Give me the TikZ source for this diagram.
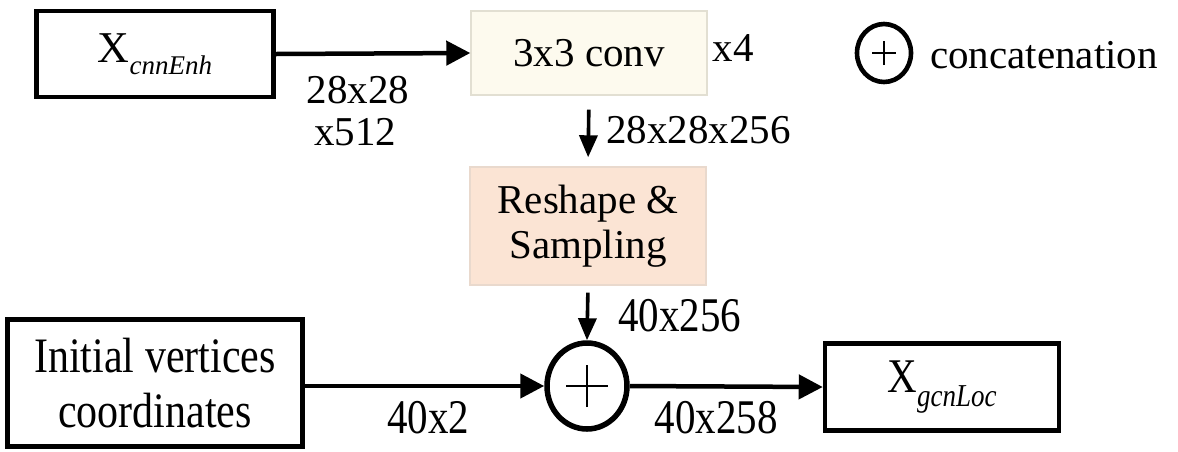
\documentclass[tikz,border=0pt]{standalone}
\usepackage{fontspec}
\setmainfont{Liberation Serif}
\usetikzlibrary{arrows.meta,shapes.geometric}
\definecolor{convfill}{HTML}{FDFAEE}
\definecolor{convline}{HTML}{E2DFD2}
\definecolor{resfill}{HTML}{FBE4D4}
\definecolor{resline}{HTML}{E9D9CD}
\newcommand{\subit}[1]{\raisebox{-0.28em}{\fontsize{27}{27}\selectfont\itshape #1}}
\newcommand{\tall}[1]{\scalebox{1}[1.18]{#1}}
\begin{document}
\begin{tikzpicture}[x=1pt,y=-1pt,
  every node/.style={font=\fontsize{41}{46}\selectfont, inner sep=0pt},
  blockbox/.style={draw, line width=4.5pt, rectangle, align=center},
  softbox/.style={draw, line width=1.4pt, rectangle, align=center},
  plusnode/.style={draw, ellipse, line width=5.5pt},
  flow/.style={line width=4.5pt, -{Triangle[length=24pt,width=24pt]}},
  downflow/.style={line width=3.6pt, -{Triangle[length=22pt,width=18pt]}},
  lbl/.style={anchor=center}]
\useasboundingbox (0,0) rectangle (1178,451);

% blocks
\node[blockbox, minimum width=237pt, minimum height=86pt] (xe) at (155,54) {\fontsize{44}{46}\selectfont X\subit{cnnEnh}};
\node[softbox, draw=convline, fill=convfill, minimum width=236pt, minimum height=84pt] (conv) at (589,53) {3x3 conv};
\node (rep) at (733,48) {x4};
\node[softbox, draw=resline, fill=resfill, minimum width=236pt, minimum height=118pt, font=\fontsize{41}{45}\selectfont] (res) at (588,226) {Reshape \&\\Sampling};
\node[plusnode, minimum width=80pt, minimum height=86pt] (cat) at (587,386) {};
\node[blockbox, minimum width=295pt, minimum height=127pt, font=\fontsize{42}{55}\selectfont] (init) at (155,383) {\tall{Initial vertices}\\\tall{coordinates}};
\node[blockbox, minimum width=234pt, minimum height=87pt] (gcn) at (942,387) {\tall{X\subit{gcnLoc}}};

% legend
\node[plusnode, line width=4.6pt, minimum width=54pt, minimum height=58pt] (leg) at (884,53) {};
\node[anchor=west] (legtext) at (930,55) {concatenation};

% plus marks inside the circles
\draw[line width=2.4pt] ([xshift=-21pt]cat.center) -- ([xshift=21pt]cat.center)
  ([yshift=-21pt]cat.center) -- ([yshift=21pt]cat.center);
\draw[line width=1.8pt] ([xshift=-12pt]leg.center) -- ([xshift=12pt]leg.center)
  ([yshift=-12pt]leg.center) -- ([yshift=12pt]leg.center);

% connectors
\draw[flow] (xe.east) -- (conv.west);
\draw[downflow, shorten <=14pt, shorten >=9pt] (conv.south) -- (res.north);
\draw[downflow, shorten <=7pt] (res.south) -- (cat.north);
\draw[flow] (init.east |- cat.west) -- (cat.west);
\draw[flow] (cat.east) -- (gcn.west);

% tensor sizes
\node[lbl] (s1) at (358,90) {28x28};
\node[lbl] (s2) at (355,132) {x512};
\node[anchor=west] (s3) at (606,130) {28x28x256};
\node[anchor=west] (s4) at (618,316) {\tall{40x256}};
\node[lbl] (s5) at (428,418) {\tall{40x2}};
\node[lbl] (s6) at (716,418) {\tall{40x258}};
\end{tikzpicture}
\end{document}
